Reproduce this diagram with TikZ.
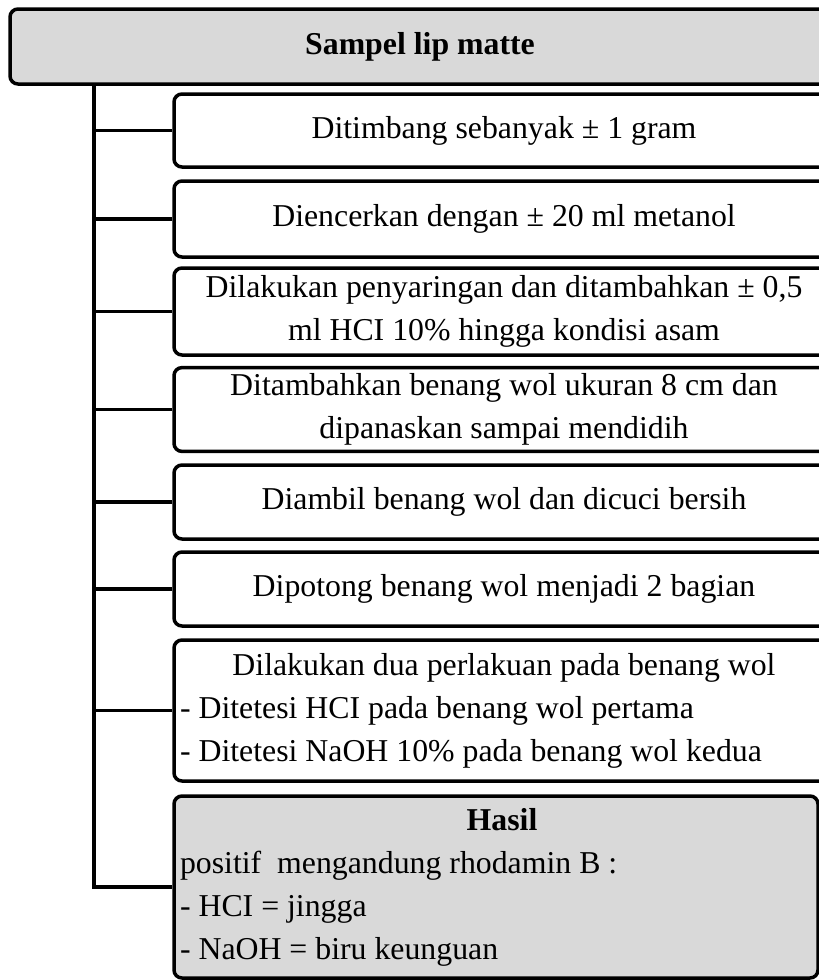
\documentclass[tikz,border=0pt]{standalone}
\usepackage{fontspec}
\setmainfont{Liberation Serif}
\usetikzlibrary{positioning}
\definecolor{boxgray}{RGB}{217,217,217}
\tikzstyle{topbox} = [rectangle, rounded corners=8pt, 
minimum width=820pt, 
minimum height=75pt, 
text centered, 
draw=black, 
fill=boxgray]
\tikzstyle{process} = [rectangle, rounded corners=8pt, 
minimum width=660pt, 
text centered, 
align=center, 
inner sep=6pt, 
draw=black, 
fill=white]
\tikzstyle{result} = [rectangle, rounded corners=8pt, 
minimum width=644pt, 
minimum height=182pt, 
text width=632pt, 
align=flush left, 
inner sep=6pt, 
draw=black, 
fill=boxgray]
\tikzstyle{line} = [line width=3.2pt]

\begin{document}
\begin{tikzpicture}[x=1pt, y=-1pt, line width=3.5pt, font=\fontsize{31.8}{43}\selectfont]

\useasboundingbox (0,0) rectangle (819,980);
\clip (0,0) rectangle (819,980);

\node (start) [topbox] at (420,46.5) {\textbf{Sampel lip matte}};
\coordinate (trunk) at (94,84);

\node (b1) [process, minimum height=73pt] at (504,130.5) {Ditimbang sebanyak ± 1 gram};
\node (b2) [process, minimum height=76pt] at (504,219) {Diencerkan dengan ± 20 ml metanol};
\node (b3) [process, minimum height=87pt] at (504,311.5) {Dilakukan penyaringan dan ditambahkan ± 0,5\\ml HCI 10\% hingga kondisi asam};
\node (b4) [process, minimum height=81pt] at (504,409.5) {Ditambahkan benang wol ukuran 8 cm dan\\dipanaskan sampai mendidih};
\node (b5) [process, minimum height=74pt] at (504,502) {Diambil benang wol dan dicuci bersih};
\node (b6) [process, minimum height=74pt] at (504,589) {Dipotong benang wol menjadi 2 bagian};
\node (b7) [process, minimum height=141pt, text width=648pt, align=flush left] at (504,710.5)
  {\makebox[\linewidth][c]{Dilakukan dua perlakuan pada benang wol}\\- Ditetesi HCI pada benang wol pertama\\- Ditetesi NaOH 10\% pada benang wol kedua};
\node (hasil) [result] at (496,887)
  {\makebox[\linewidth][c]{\hspace{12pt}\textbf{Hasil}}\\positif~ mengandung rhodamin B :\\- HCI = jingga\\- NaOH = biru keunguan};

% trunk from the top box down to the result
\draw [line] (trunk) |- (hasil.west);
\foreach \n in {b1,b2,b3,b4,b5,b6,b7}
  \draw [line] (\n.west) -- (\n.west -| trunk);

\end{tikzpicture}
\end{document}
